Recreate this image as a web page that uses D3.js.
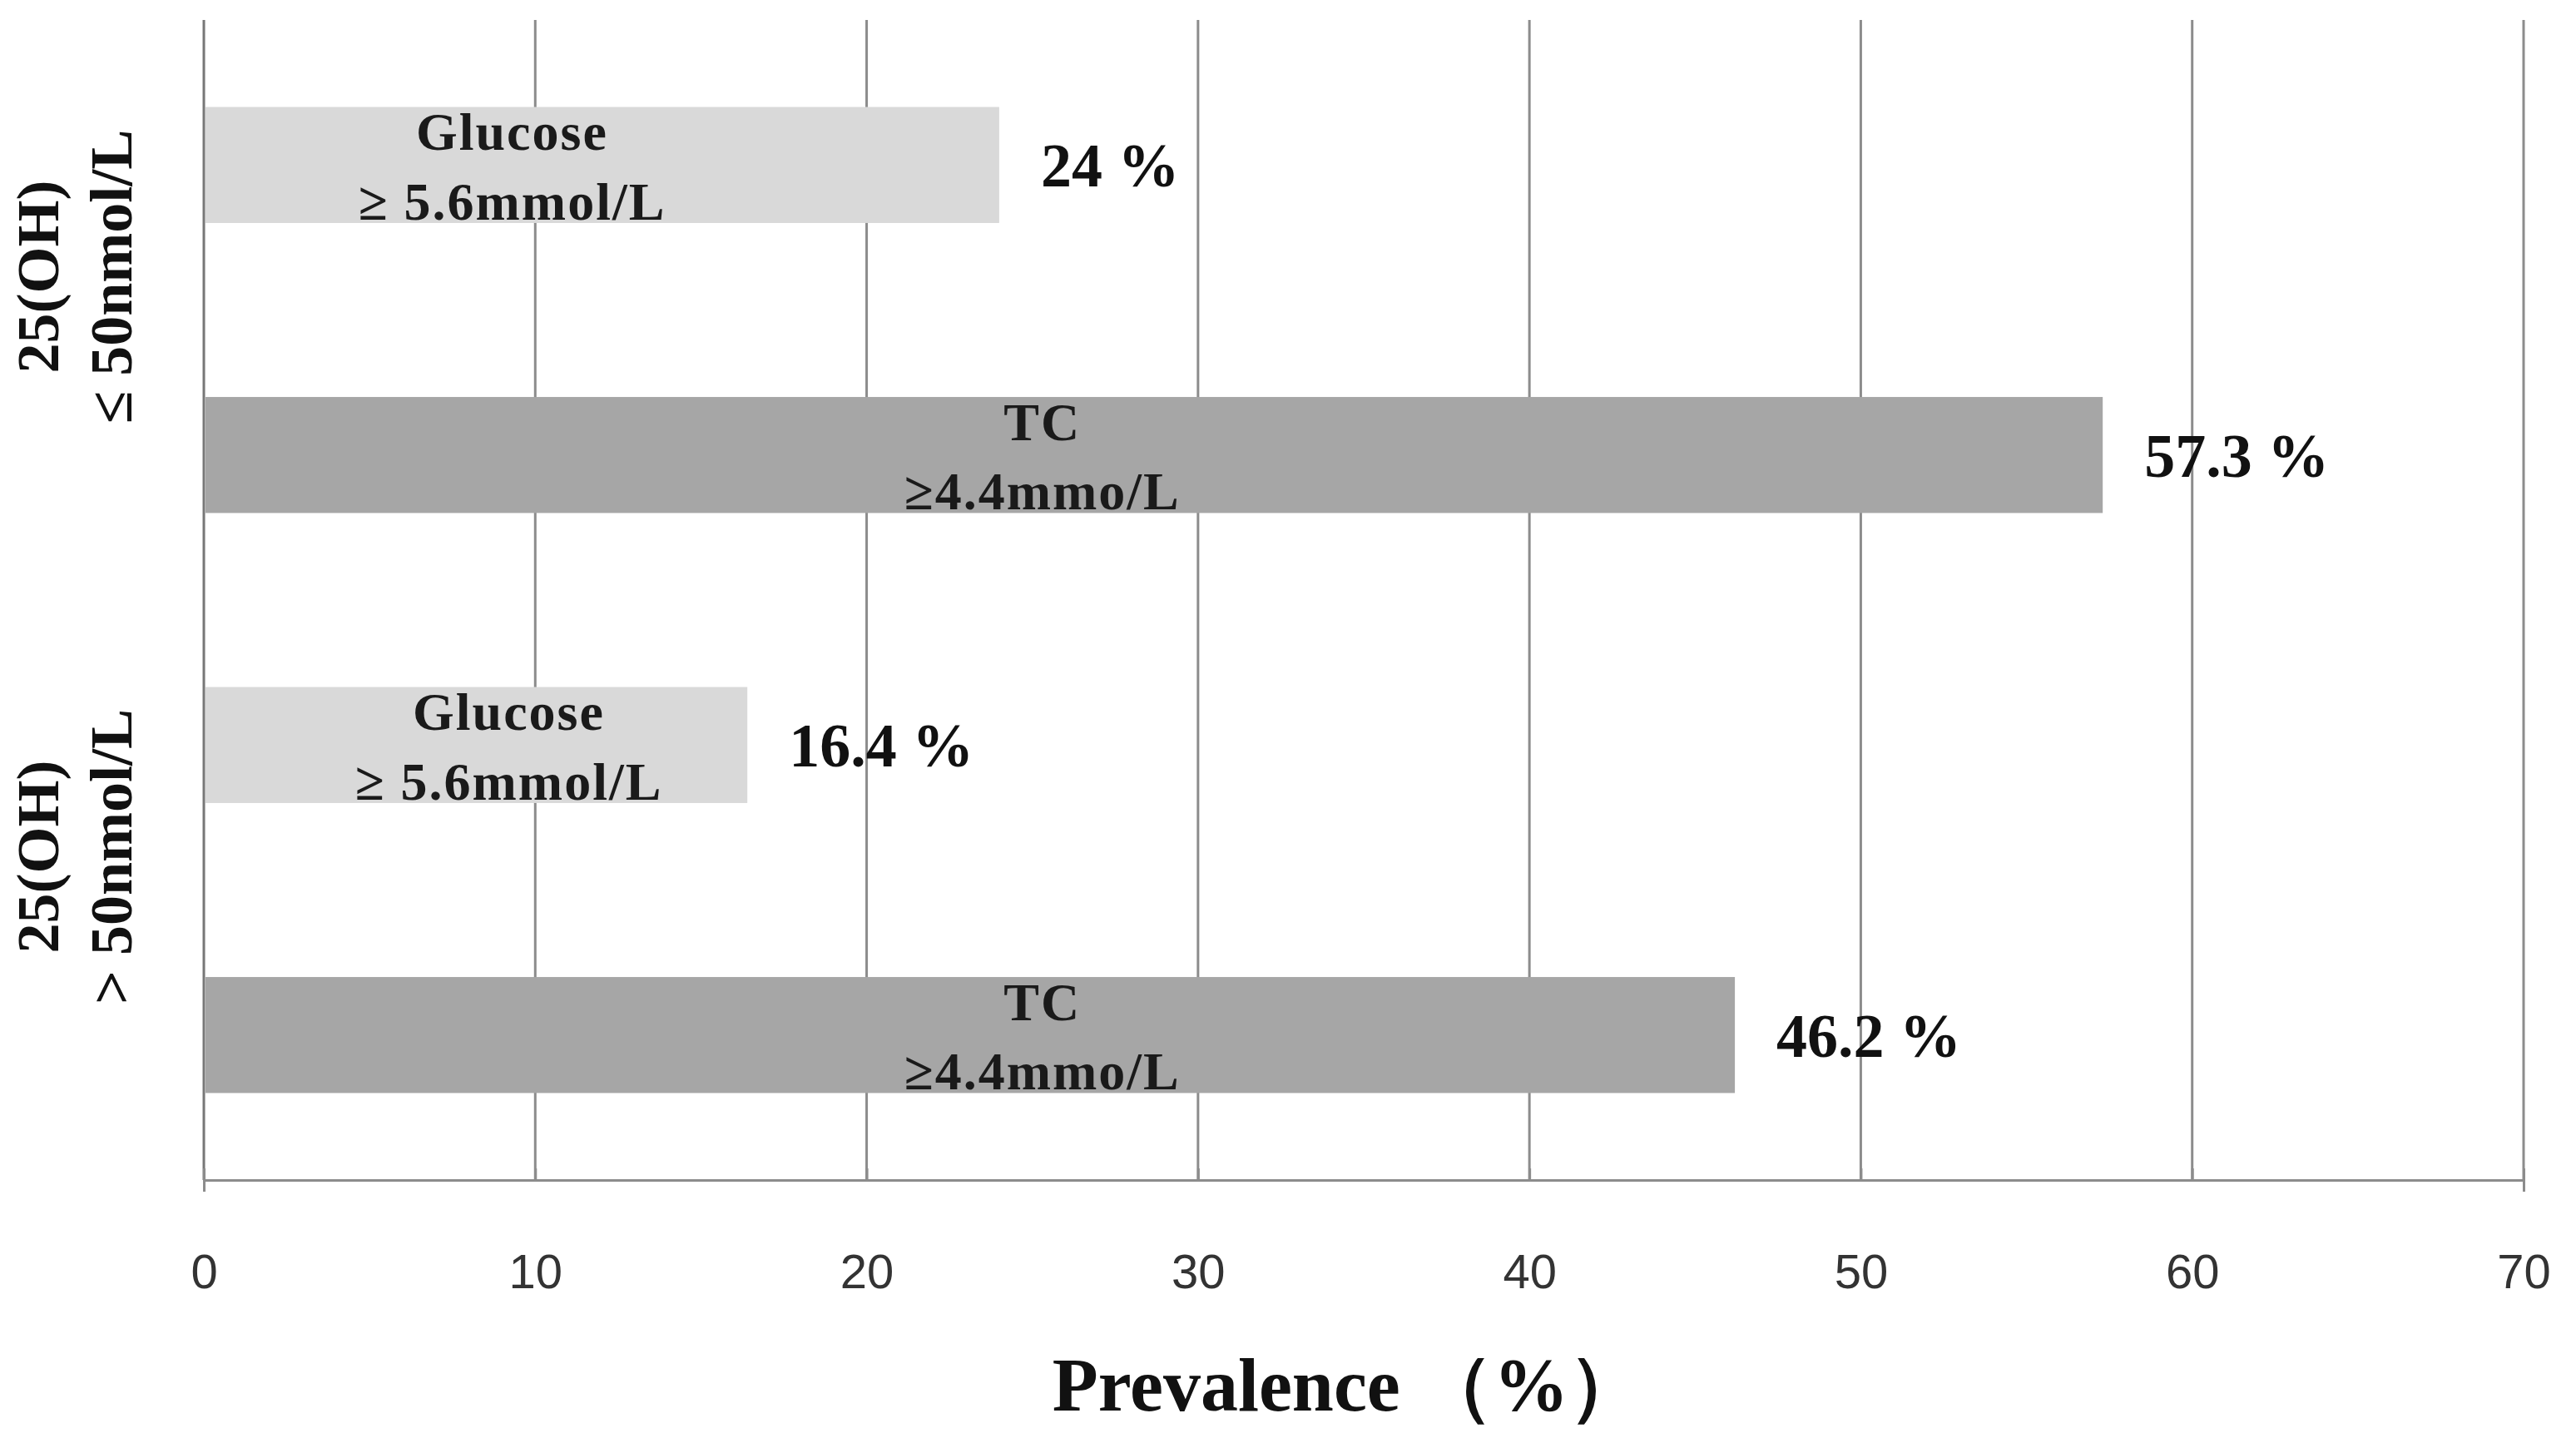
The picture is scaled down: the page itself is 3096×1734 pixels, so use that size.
<!DOCTYPE html>
<html><head><meta charset="utf-8">
<script src="https://cdn.jsdelivr.net/npm/d3@7/dist/d3.min.js"></script>
<style>body{margin:0;background:#fff}</style></head>
<body><svg id="c" width="3096" height="1734"></svg>
<script>
const barNames = ["g1","t1","g2","t2"];
const values = [24, 57.3, 16.4, 46.2];
const barLabel1 = ["Glucose","TC","Glucose","TC"];
const barLabel2 = ["\u2265 5.6mmol/L","\u22654.4mmo/L","\u2265 5.6mmol/L","\u22654.4mmo/L"];
const valueText = ["24 %","57.3 %","16.4 %","46.2 %"];
const groupLine1 = ["25(OH)","25(OH)"];
const groupLine2 = ["\u2264 50nmol/L","> 50nmol/L"];
const ticks = [0,10,20,30,40,50,60,70];

const svg = d3.select("#c");
const x = d3.scaleLinear().domain([0,70]).range([245,3033]);
const y = d3.scaleBand().domain(barNames).range([24,1418]).paddingInner(0.6).paddingOuter(0.3);
const fills = ["#d9d9d9","#a6a6a6","#d9d9d9","#a6a6a6"];
const serif = "'Liberation Serif','Times New Roman',serif";

svg.selectAll(".grid").data(ticks).join("line")
  .attr("x1",d=>x(d)).attr("x2",d=>x(d)).attr("y1",24).attr("y2",1418)
  .attr("stroke",d=>d===0?"#777":"#8c8c8c").attr("stroke-width",3);
const ax = svg.append("g").attr("transform","translate(0,1418)")
  .call(d3.axisBottom(x).tickValues(ticks).tickSize(14).tickFormat(d3.format("d")));
ax.select(".domain").attr("stroke","#8c8c8c").attr("stroke-width",3);
ax.selectAll(".tick line").attr("stroke","#8c8c8c").attr("stroke-width",3).attr("transform","translate(0,-14)");
ax.selectAll("text").attr("font-family","'Liberation Sans',Arial,sans-serif").attr("font-size",58)
  .attr("fill","#333").attr("dy","1.95em");

svg.selectAll(".bar").data(barNames).join("rect")
  .attr("x",x(0)+2).attr("y",d=>y(d)).attr("height",y.bandwidth())
  .attr("width",(d,i)=>x(values[i])-x(0)-2).attr("fill",(d,i)=>fills[i]);

const labX = [9.3,25.3,9.2,25.3];
barNames.forEach((d,i)=>{
  const t = svg.append("text").attr("font-family",serif).attr("font-weight","bold")
    .attr("font-size",64).attr("text-anchor","middle").attr("fill","#1a1a1a")
    .attr("letter-spacing",2);
  t.append("tspan").attr("x",x(labX[i])).attr("y",y(d)+y.bandwidth()*0.37).text(barLabel1[i]);
  t.append("tspan").attr("x",x(labX[i])).attr("y",y(d)+y.bandwidth()*0.97).text(barLabel2[i]);
  svg.append("text").attr("x",x(values[i])+50).attr("y",y(d)+y.bandwidth()/2)
    .attr("dy","0.35em").attr("font-family",serif).attr("font-weight","bold")
    .attr("font-size",74).attr("fill","#111").text(valueText[i]);
});

const groupCenter = [(y("g1")+y("t1")+y.bandwidth())/2,(y("g2")+y("t2")+y.bandwidth())/2];
groupLine1.forEach((g,i)=>{
  const gg = svg.append("g").attr("transform",`translate(70,${groupCenter[i]-40}) rotate(-90)`);
  const t = gg.append("text").attr("font-family",serif).attr("font-weight","bold")
    .attr("font-size",72).attr("text-anchor","middle").attr("fill","#111");
  t.append("tspan").attr("x",0).attr("y",0).text(g);
  t.append("tspan").attr("x",0).attr("y",88).text(groupLine2[i]);
});

svg.append("text").attr("x",1620).attr("y",1695).attr("text-anchor","middle")
  .attr("font-family",serif).attr("font-weight","bold").attr("font-size",90).attr("fill","#111")
  .text("Prevalence \uFF08%\uFF09");
</script></body></html>
